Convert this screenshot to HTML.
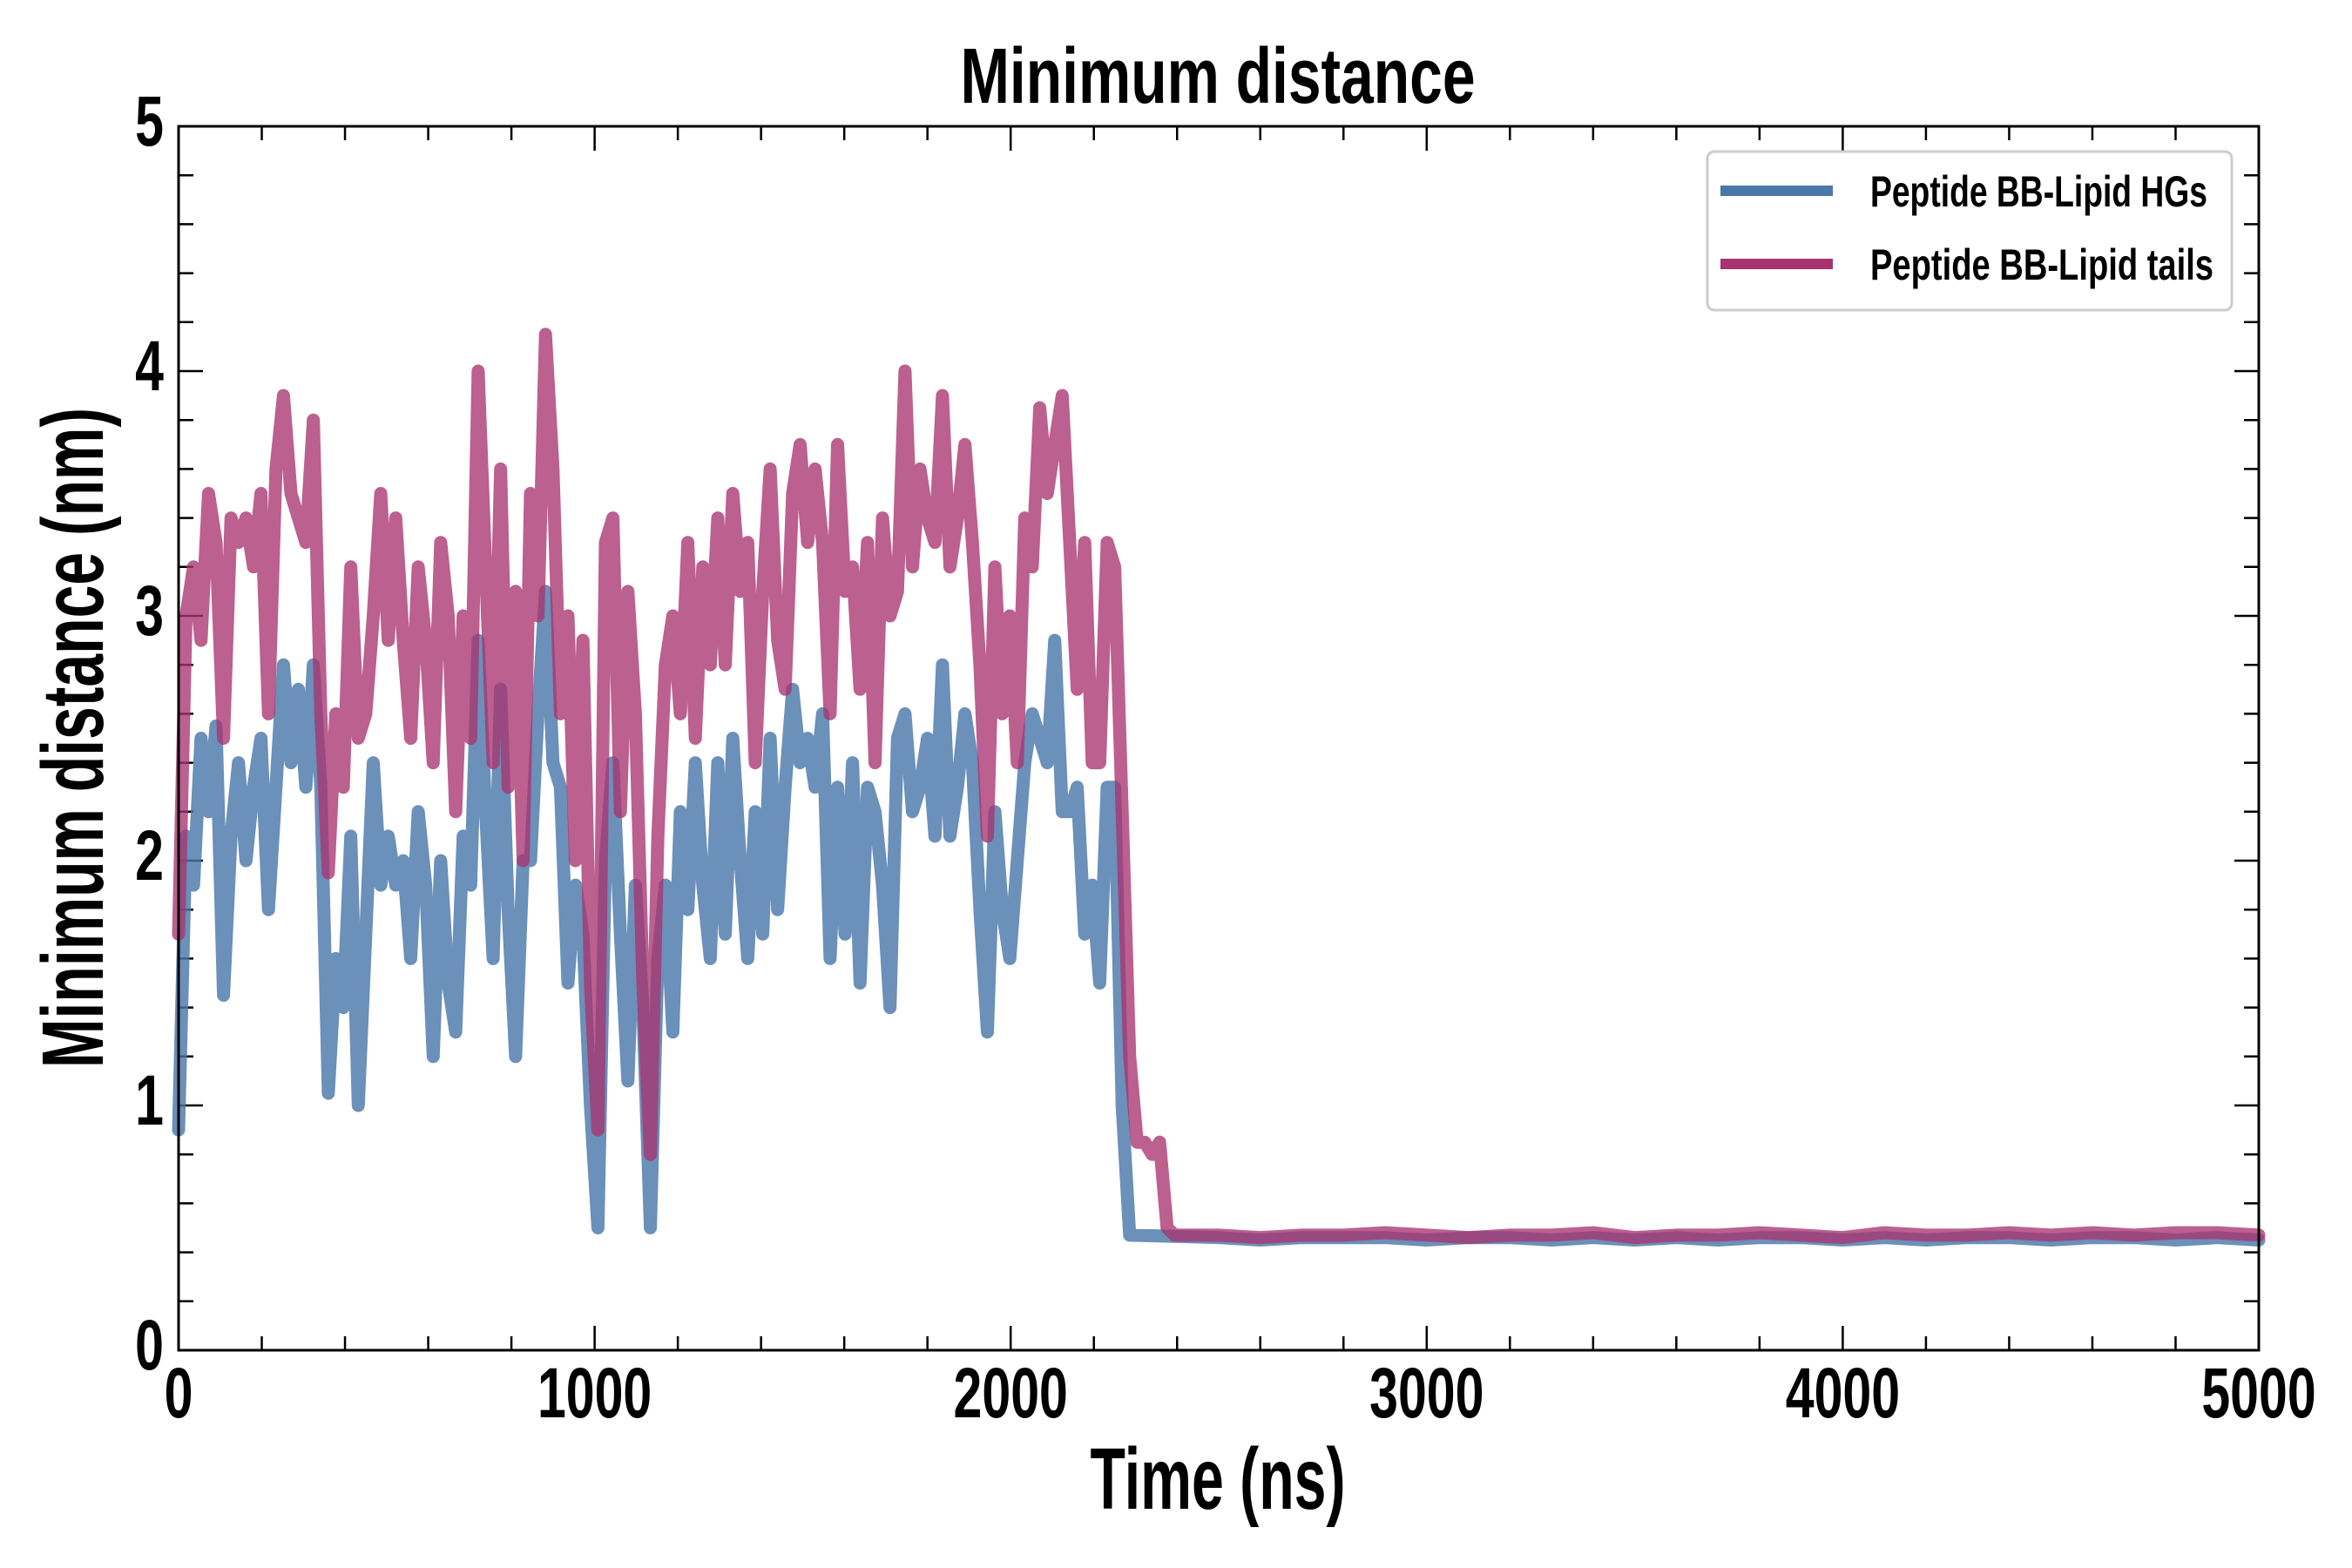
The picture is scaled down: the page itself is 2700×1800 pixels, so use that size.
<!DOCTYPE html>
<html><head><meta charset="utf-8"><style>
html,body{margin:0;padding:0;background:#fff;}
svg{display:block;}
text{font-family:"Liberation Sans Narrow","Liberation Sans",sans-serif;font-weight:bold;fill:#000;}
</style></head><body>
<svg id="chart" width="2700" height="1800" viewBox="0 0 2700 1800" xmlns="http://www.w3.org/2000/svg">
<rect x="0" y="0" width="2700" height="1800" fill="#fff"/>
<text x="1398" y="118" font-size="90" text-anchor="middle" textLength="591" lengthAdjust="spacingAndGlyphs">Minimum distance</text>
<text x="1398" y="1732" font-size="100" text-anchor="middle" textLength="293" lengthAdjust="spacingAndGlyphs">Time (ns)</text>
<text transform="translate(118,847) rotate(-90)" x="0" y="0" font-size="100" text-anchor="middle" textLength="758" lengthAdjust="spacingAndGlyphs">Minimum distance (nm)</text>
<g id="ticks"></g>
<g id="series"></g>
<rect x="205" y="145" width="2388" height="1405" fill="none" stroke="#000" stroke-width="3"/>
<g>
<rect x="1960" y="174" width="602" height="182" rx="8" fill="#fff" fill-opacity="0.85" stroke="#ccc" stroke-width="3"/>
<line x1="1975" y1="219" x2="2104" y2="219" stroke="#4a78aa" stroke-width="12"/>
<text x="2147" y="237" font-size="50" textLength="387" lengthAdjust="spacingAndGlyphs">Peptide BB-Lipid HGs</text>
<line x1="1975" y1="303" x2="2104" y2="303" stroke="#a8336f" stroke-width="12"/>
<text x="2147" y="321" font-size="50" textLength="394" lengthAdjust="spacingAndGlyphs">Peptide BB-Lipid tails</text>
</g>
</svg>
<script>
const xTicks=[0,1000,2000,3000,4000,5000];
const yTicks=[0,1,2,3,4,5];
const stepNs=18;
const tailsEarly=[1.7,3.0,3.2,2.9,3.5,3.3,2.5,3.4,3.3,3.4,3.2,3.5,2.6,3.6,3.9,3.5,3.4,3.3,3.8,2.6,1.95,2.6,2.3,3.2,2.5,2.6,3.0,3.5,2.9,3.4,2.9,2.5,3.2,2.9,2.4,3.3,3.0,2.2,3.0,2.5,4.0,3.2,2.4,3.6,2.3,3.1,2.0,3.5,3.0,4.15,3.6,2.6,3.0,2.0,2.9,1.5,0.9,3.3,3.4,2.2,3.1,2.6,1.5,0.8,2.1,2.8,3.0,2.6,3.3,2.5,3.2,2.8,3.4,2.8,3.5,3.1,3.3,2.4,3.1,3.6,2.9,2.7,3.5,3.7,3.3,3.6,3.3,2.6,3.7,3.1,3.2,2.7,3.3,2.4,3.4,3.0,3.1,4.0,3.2,3.6,3.4,3.3,3.9,3.2,3.4,3.7,3.3,2.8,2.1,3.2,2.6,3.0,2.4,3.4,3.2,3.85,3.5,3.7,3.9,3.3,2.7,3.3,2.4,2.4,3.3,3.2,2.2,1.2,0.85,0.85,0.8,0.85,0.5,0.47];
const hgsEarly=[0.9,2.1,1.9,2.5,2.2,2.55,1.45,2.1,2.4,2.0,2.3,2.5,1.8,2.3,2.8,2.4,2.7,2.3,2.8,2.3,1.05,1.6,1.4,2.1,1.0,1.7,2.4,1.9,2.1,1.9,2.0,1.6,2.2,1.9,1.2,2.0,1.5,1.3,2.1,1.9,2.9,2.2,1.6,2.7,1.8,1.2,2.0,2.0,2.6,3.1,2.4,2.3,1.5,1.9,1.7,1.0,0.5,2.0,2.4,1.7,1.1,1.9,1.4,0.5,1.6,1.9,1.3,2.2,1.8,2.4,1.9,1.6,2.4,1.7,2.5,2.0,1.6,2.2,1.7,2.5,1.8,2.3,2.7,2.4,2.5,2.3,2.6,1.6,2.3,1.7,2.4,1.5,2.3,2.2,1.9,1.4,2.5,2.6,2.2,2.3,2.5,2.1,2.8,2.1,2.3,2.6,2.4,1.8,1.3,2.2,1.8,1.6,2.0,2.4,2.6,2.5,2.4,2.9,2.2,2.2,2.3,1.7,1.9,1.5,2.3,2.3,1.0,0.47];
const lateTimes=[2500,2600,2700,2800,2900,3000,3100,3200,3300,3400,3500,3600,3700,3800,3900,4000,4100,4200,4300,4400,4500,4600,4700,4800,4900,5000];
const tailsLate=[0.47,0.46,0.47,0.47,0.48,0.47,0.46,0.47,0.47,0.48,0.46,0.47,0.47,0.48,0.47,0.46,0.48,0.47,0.47,0.48,0.47,0.48,0.47,0.48,0.48,0.47];
const hgsLate=[0.46,0.45,0.46,0.46,0.46,0.45,0.46,0.46,0.45,0.46,0.45,0.46,0.45,0.46,0.46,0.45,0.46,0.45,0.46,0.46,0.45,0.46,0.46,0.45,0.46,0.45];
const NS='http://www.w3.org/2000/svg';
const X0=205,X1=2593,Y0=1550,Y1=145;
function xs(t){return X0+(t/5000)*(X1-X0);}
function ys(v){return Y0-(v/5)*(Y0-Y1);}
const tg=document.getElementById('ticks');
function mk(tag,attrs,parent){const e=document.createElementNS(NS,tag);for(const k in attrs)e.setAttribute(k,attrs[k]);parent.appendChild(e);return e;}
for(let t=0;t<=5000;t+=200){
  const major=t%1000===0;const L=major?28:16;const x=xs(t);
  const a=mk('line',{x1:x,y1:Y0,x2:x,y2:Y0-L,stroke:'#000','stroke-width':2.5},tg);
  
  
  const b=mk('line',{x1:x,y1:Y1,x2:x,y2:Y1+L,stroke:'#000','stroke-width':2.5},tg);
  
  
}
for(let i=0;i<=25;i++){
  const v=i*0.2;const major=i%5===0;const L=major?28:17;const y=ys(v);
  const a=mk('line',{x1:X0,y1:y,x2:X0+L,y2:y,stroke:'#000','stroke-width':2.5},tg);
  
  
  const b=mk('line',{x1:X1,y1:y,x2:X1-L,y2:y,stroke:'#000','stroke-width':2.5},tg);
  
  
}
xTicks.forEach(t=>{
  const e=mk('text',{'font-size':82,'text-anchor':'middle',transform:'translate('+xs(t)+',1627) scale(0.72,1)'},tg);
  e.textContent=String(t);
  
  
});
yTicks.forEach(v=>{
  const e=mk('text',{'font-size':82,'text-anchor':'end',transform:'translate(188,'+(ys(v)+22)+') scale(0.72,1)'},tg);
  e.textContent=String(v);
  
  
});
const sg=document.getElementById('series');
function pts(early,late){
  const p=[];early.forEach((v,i)=>p.push([xs(i*stepNs),ys(v)]));
  late.forEach((v,i)=>p.push([xs(lateTimes[i]),ys(v)]));
  return p.map(q=>q[0].toFixed(1)+','+q[1].toFixed(1)).join(' ');
}
const hl=mk('polyline',{points:pts(hgsEarly,hgsLate),fill:'none',stroke:'#4a78aa','stroke-opacity':0.82,'stroke-width':15,'stroke-linejoin':'round','stroke-linecap':'round'},sg);


const tl=mk('polyline',{points:pts(tailsEarly,tailsLate),fill:'none',stroke:'#a8336f','stroke-opacity':0.78,'stroke-width':15,'stroke-linejoin':'round','stroke-linecap':'round'},sg);


</script>
</body></html>
